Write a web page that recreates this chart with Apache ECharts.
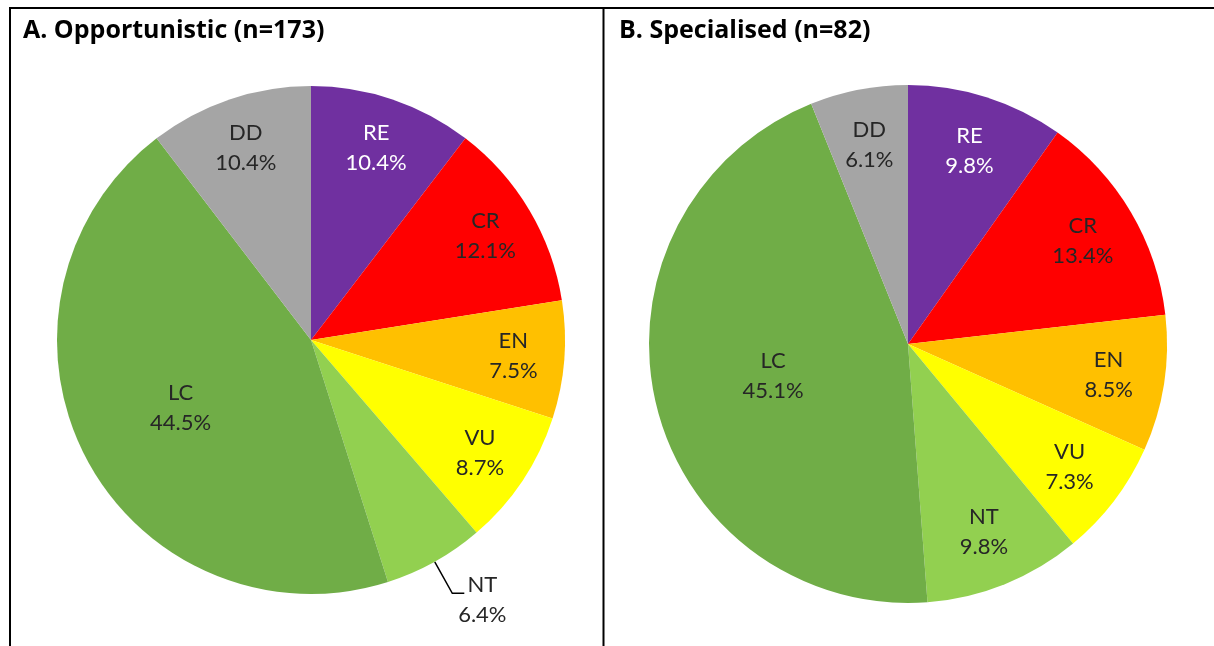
<!DOCTYPE html>
<html>
<head>
<meta charset="utf-8">
<script src="https://cdn.jsdelivr.net/npm/echarts@6/dist/echarts.min.js"></script>
<style>
html,body{margin:0;padding:0;background:#fff;}
#chart{width:1214px;height:646px;}
</style>
</head>
<body>
<div id="chart"></div>
<script>
// ---- data ----
const categories = ['RE', 'CR', 'EN', 'VU', 'NT', 'LC', 'DD'];
const valuesA = [10.4, 12.1, 7.5, 8.7, 6.4, 44.5, 10.4];   // Opportunistic, %
const valuesB = [9.8, 13.4, 8.5, 7.3, 9.8, 45.1, 6.1];     // Specialised, %
const titleA = 'A. Opportunistic (n=173)';
const titleB = 'B. Specialised (n=82)';
const colors = ['#7030A0', '#FF0000', '#FFC000', '#FFFF00', '#92D050', '#70AD47', '#A5A5A5'];
const labelColors = ['#FFFFFF', '#262626', '#262626', '#262626', '#262626', '#262626', '#262626'];

const FONT = 'Lato, "Open Sans", sans-serif';
const TITLE_FONT = '"Open Sans", Lato, sans-serif';
const LABEL_SIZE = 22;

function fmt(p) { return p.name + '\n' + p.value.toFixed(1) + '%'; }

function panelSeries(values, center, r, ringR0, deepR0, deepCats, outsideCats) {
  const main = {
    type: 'pie', center: center, radius: [0, r], startAngle: 90, clockwise: true,
    avoidLabelOverlap: false, silent: true,
    data: categories.map((c, i) => {
      const outside = outsideCats.indexOf(c) >= 0;
      return {
        name: c, value: values[i],
        itemStyle: { color: colors[i] },
        label: outside ? {
          show: true, position: 'outside', distanceToLabelLine: 4,
          formatter: p => '{n|' + p.name + '}\n{p|' + p.value.toFixed(1) + '%}',
          padding: [14, 0, 0, 0],
          rich: {
            n: { width: 28, align: 'center', fontSize: LABEL_SIZE, fontFamily: FONT, color: '#262626', lineHeight: 30 },
            p: { width: 28, align: 'center', fontSize: LABEL_SIZE, fontFamily: FONT, color: '#262626', lineHeight: 30 }
          }
        } : { show: false },
        labelLine: outside ? { show: true, length: 36, length2: 12, smooth: false,
          lineStyle: { color: '#000', width: 1.5 } } : { show: false }
      };
    })
  };
  function helper(r0, cats) {
    return {
      type: 'pie', center: center, radius: [r0, r], startAngle: 90, clockwise: true,
      silent: true, avoidLabelOverlap: false,
      itemStyle: { color: 'rgba(0,0,0,0)' },
      labelLine: { show: false },
      data: categories.map((c, i) => ({
        name: c, value: values[i],
        label: {
          show: cats.indexOf(c) >= 0, position: 'inside', formatter: fmt,
          color: labelColors[i], fontSize: LABEL_SIZE, fontFamily: FONT, lineHeight: 30
        }
      }))
    };
  }
  const ringCats = categories.filter(c => deepCats.indexOf(c) < 0 && outsideCats.indexOf(c) < 0);
  return [main, helper(ringR0, ringCats), helper(deepR0, deepCats)];
}

const chart = echarts.init(document.getElementById('chart'), null, { renderer: 'canvas' });
const series = []
  .concat(panelSeries(valuesA, [311, 340], 254, 146, 34, ['LC'], ['NT']))
  .concat(panelSeries(valuesB, [908, 344], 259, 141, 12, ['LC'], []));

chart.setOption({
  animation: false,
  backgroundColor: '#fff',
  title: [
    { text: titleA, left: 18, top: 13, textStyle: { fontFamily: TITLE_FONT, fontWeight: 'bold', fontSize: 25, color: '#000' } },
    { text: titleB, left: 614, top: 13, textStyle: { fontFamily: TITLE_FONT, fontWeight: 'bold', fontSize: 25, color: '#000' } }
  ],
  graphic: [
    { type: 'line', shape: { x1: 9, y1: 8, x2: 1214, y2: 8 }, style: { stroke: '#000', lineWidth: 2 } },
    { type: 'line', shape: { x1: 10, y1: 7, x2: 10, y2: 646 }, style: { stroke: '#000', lineWidth: 2 } },
    { type: 'line', shape: { x1: 603.5, y1: 7, x2: 603.5, y2: 646 }, style: { stroke: '#000', lineWidth: 2 } }
  ],
  series: series
});
</script>
</body>
</html>
